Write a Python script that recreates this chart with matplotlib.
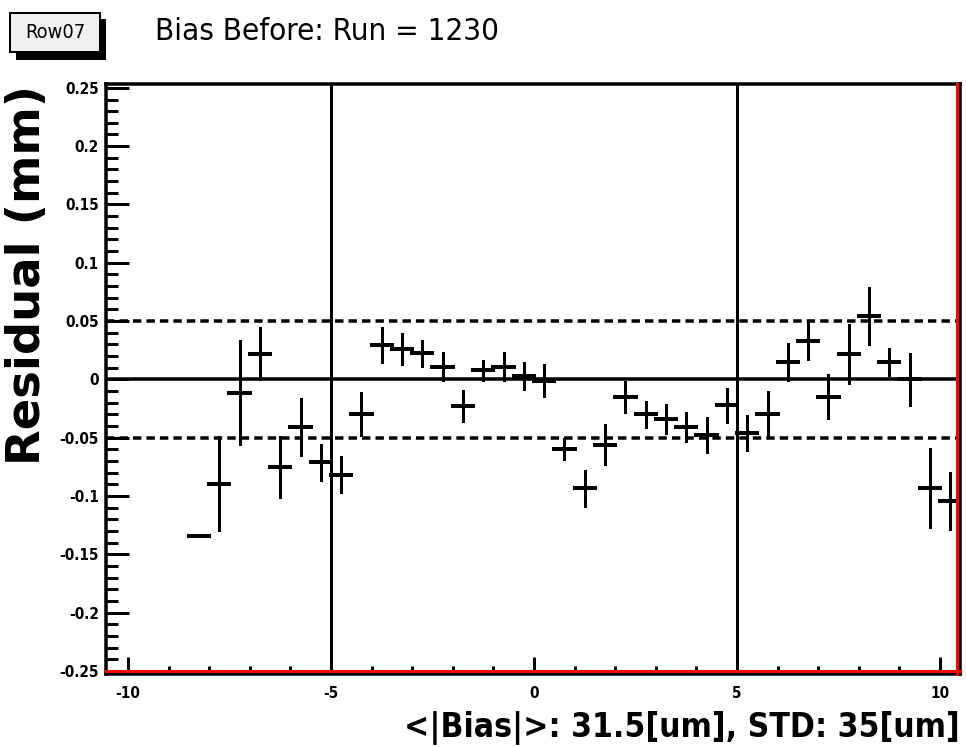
import matplotlib
matplotlib.use('Agg')
import matplotlib.pyplot as plt
from matplotlib import font_manager
from matplotlib.font_manager import FontProperties
from matplotlib.transforms import ScaledTranslation
from matplotlib.patches import Rectangle
from matplotlib.lines import Line2D
from matplotlib.ticker import MultipleLocator, FuncFormatter

# ---------------- data ----------------
bin_centers = [-8.25, -7.75, -7.25, -6.75, -6.25, -5.75, -5.25, -4.75, -4.25, -3.75,
               -3.25, -2.75, -2.25, -1.75, -1.25, -0.75, -0.25, 0.25, 0.75, 1.25,
               1.75, 2.25, 2.75, 3.25, 3.75, 4.25, 4.75, 5.25, 5.75, 6.25,
               6.75, 7.25, 7.75, 8.25, 8.75, 9.25, 9.75, 10.25]
residual = [-0.134, -0.0895, -0.0115, 0.022, -0.075, -0.041, -0.071, -0.082, -0.030, 0.0297,
            0.0259, 0.0223, 0.0108, -0.0226, 0.0077, 0.0108, 0.003, -0.001, -0.060, -0.0935,
            -0.056, -0.0149, -0.030, -0.0338, -0.041, -0.048, -0.0223, -0.046, -0.030, 0.0146,
            0.033, -0.0149, 0.022, 0.0543, 0.0148, 0.0, -0.0935, -0.104]
residual_err = [0.0, 0.040, 0.044, 0.022, 0.0255, 0.024, 0.015, 0.015, 0.018, 0.0146,
                0.013, 0.011, 0.0116, 0.0127, 0.0083, 0.0117, 0.011, 0.013, 0.0085, 0.0147,
                0.017, 0.013, 0.0107, 0.012, 0.012, 0.0147, 0.0143, 0.0147, 0.019, 0.0154,
                0.0157, 0.0186, 0.025, 0.024, 0.011, 0.022, 0.0334, 0.024]
bin_half_width = 0.25
band_limits = [-0.05, 0.05]
vertical_marks = [-5, 5]

title_text = "Bias Before: Run = 1230"
box_text = "Row07"
ylabel_text = "Residual (mm)"
xlabel_text = "<|Bias|>: 31.5[um], STD: 35[um]"

# ---------------- fonts ----------------
def find_condensed(bold):
    best = None
    for f in font_manager.fontManager.ttflist:
        nm = f.name.lower()
        st = str(f.stretch).lower()
        fn = f.fname.lower()
        cond = ('narrow' in nm or 'condensed' in nm or 'condensed' in st
                or 'condensed' in fn or 'narrow' in fn)
        if not cond or 'cjk' in nm or 'mono' in nm or 'serif' in nm and 'sans' not in nm:
            continue
        if f.style != 'normal':
            continue
        w = f.weight
        if isinstance(w, str):
            w = {'bold': 700, 'normal': 400, 'regular': 400, 'book': 400}.get(w.lower(), 400)
        if bold and w < 650:
            continue
        if not bold and (w >= 650 or w < 350):
            continue
        best = f.fname
        if 'dejavu' in nm or 'liberation' in nm:
            break
    return best

cond_reg = find_condensed(False)
cond_bold = find_condensed(True)

def fp(bold):
    fn = cond_bold if bold else cond_reg
    if fn:
        return FontProperties(fname=fn)
    return FontProperties(family='DejaVu Sans', weight='bold' if bold else 'normal')

W, H = 966, 747
fig = plt.figure(figsize=(W / 100, H / 100), dpi=100)
fig.patch.set_facecolor('white')

def fx(x):
    return x / W

def fy(y):
    return 1 - y / H

ax_left, ax_right, ax_top, ax_bottom = 106, 960, 84, 674
ax = fig.add_axes([fx(ax_left), fy(ax_bottom), fx(ax_right - ax_left), (ax_bottom - ax_top) / H])
ax.set_xlim(-10.54, 10.49)
ax.set_ylim(-0.2527, 0.2533)

px = 0.72  # points per pixel at 100 dpi

# reference lines
ax.axhline(0, color='black', lw=3.5 * px, zorder=2)
for b in band_limits:
    ax.axhline(b, color='black', lw=3.5 * px, linestyle=(0, (2.4, 1.45)), zorder=2)
for v in vertical_marks:
    ax.axvline(v, color='black', lw=3 * px, zorder=2)

# data crosses
eb1 = ax.errorbar(bin_centers, residual, xerr=bin_half_width, fmt='none',
                  ecolor='black', elinewidth=4 * px, capsize=0, zorder=3)
eb2 = ax.errorbar(bin_centers, residual, yerr=residual_err, fmt='none',
                  ecolor='black', elinewidth=3 * px, capsize=0, zorder=3)
for eb in (eb1, eb2):
    for lc in eb[2]:
        lc.set_capstyle('projecting')

# spines
for s in ax.spines.values():
    s.set_color('black')
    s.set_linewidth(3.5 * px)

# red inner frame lines (bottom and right)
off_r = ScaledTranslation(-3 / 100, 0, fig.dpi_scale_trans)
off_b = ScaledTranslation(0, 3 / 100, fig.dpi_scale_trans)
ax.add_line(Line2D([1, 1], [0, 1], transform=ax.transAxes + off_r, color='red',
                   lw=3 * px, clip_on=False, zorder=5))
ax.add_line(Line2D([0, 1], [0, 0], transform=ax.transAxes + off_b, color='red',
                   lw=3 * px, clip_on=False, zorder=5))

# ticks
ax.xaxis.set_major_locator(MultipleLocator(5))
ax.xaxis.set_minor_locator(MultipleLocator(1))
ax.yaxis.set_major_locator(MultipleLocator(0.05))
ax.yaxis.set_minor_locator(MultipleLocator(0.01))
ax.tick_params(axis='x', which='major', direction='in', length=17 * px, width=3 * px, pad=9,
               top=False, bottom=True)
ax.tick_params(axis='x', which='minor', direction='in', length=8 * px, width=3 * px,
               top=False, bottom=True)
ax.tick_params(axis='y', which='major', direction='in', length=23 * px, width=3 * px, pad=5,
               right=False, left=True)
ax.tick_params(axis='y', which='minor', direction='in', length=12 * px, width=3 * px,
               right=False, left=True)

def fmt(v, pos):
    v = round(v, 4)
    if abs(v) < 1e-9:
        return '0'
    return ('%g' % v)

ax.xaxis.set_major_formatter(FuncFormatter(fmt))
ax.yaxis.set_major_formatter(FuncFormatter(fmt))
tick_fp = fp(True)
tick_fp.set_size(11)
for lab in ax.get_xticklabels() + ax.get_yticklabels():
    lab.set_fontproperties(tick_fp)

# texts
p_title = fp(False); p_title.set_size(24)
p_xlab = fp(True); p_xlab.set_size(36)
p_box = fp(False); p_box.set_size(12)
title = fig.text(fx(155), fy(40), title_text, ha='left', va='baseline',
                 fontproperties=p_title, color='black')
xlab = fig.text(fx(960), fy(745), xlabel_text, ha='right', va='bottom',
                fontproperties=p_xlab, color='black')
ylab = fig.text(fx(28), fy(275), ylabel_text, ha='center', va='center', rotation=90,
                fontfamily='DejaVu Sans', fontweight='bold', fontsize=26, color='black')

# Row07 box with shadow
fig.patches.append(Rectangle((fx(16), fy(60)), fx(90), (60 - 19) / H, transform=fig.transFigure,
                             facecolor='black', edgecolor='none', zorder=1))
fig.patches.append(Rectangle((fx(10), fy(52)), fx(90), (52 - 13) / H, transform=fig.transFigure,
                             facecolor='#f0f0f0', edgecolor='black', lw=2 * px, zorder=2))
boxt = fig.text(fx(55), fy(32), box_text, ha='center', va='center',
                fontproperties=p_box, color='black', zorder=3)

# fit text sizes to the reference extents
fig.canvas.draw()
renderer = fig.canvas.get_renderer()

def fit(t, target, dim='w'):
    for _ in range(3):
        bb = t.get_window_extent(renderer)
        cur = bb.width if dim == 'w' else bb.height
        if cur > 0:
            t.set_fontsize(t.get_fontsize() * target / cur)

fit(title, 345, 'w')
fit(xlab, 555, 'w')
fit(ylab, 380, 'h')
fit(boxt, 60, 'w')

fig.savefig('out.png', dpi=100, facecolor='white')
